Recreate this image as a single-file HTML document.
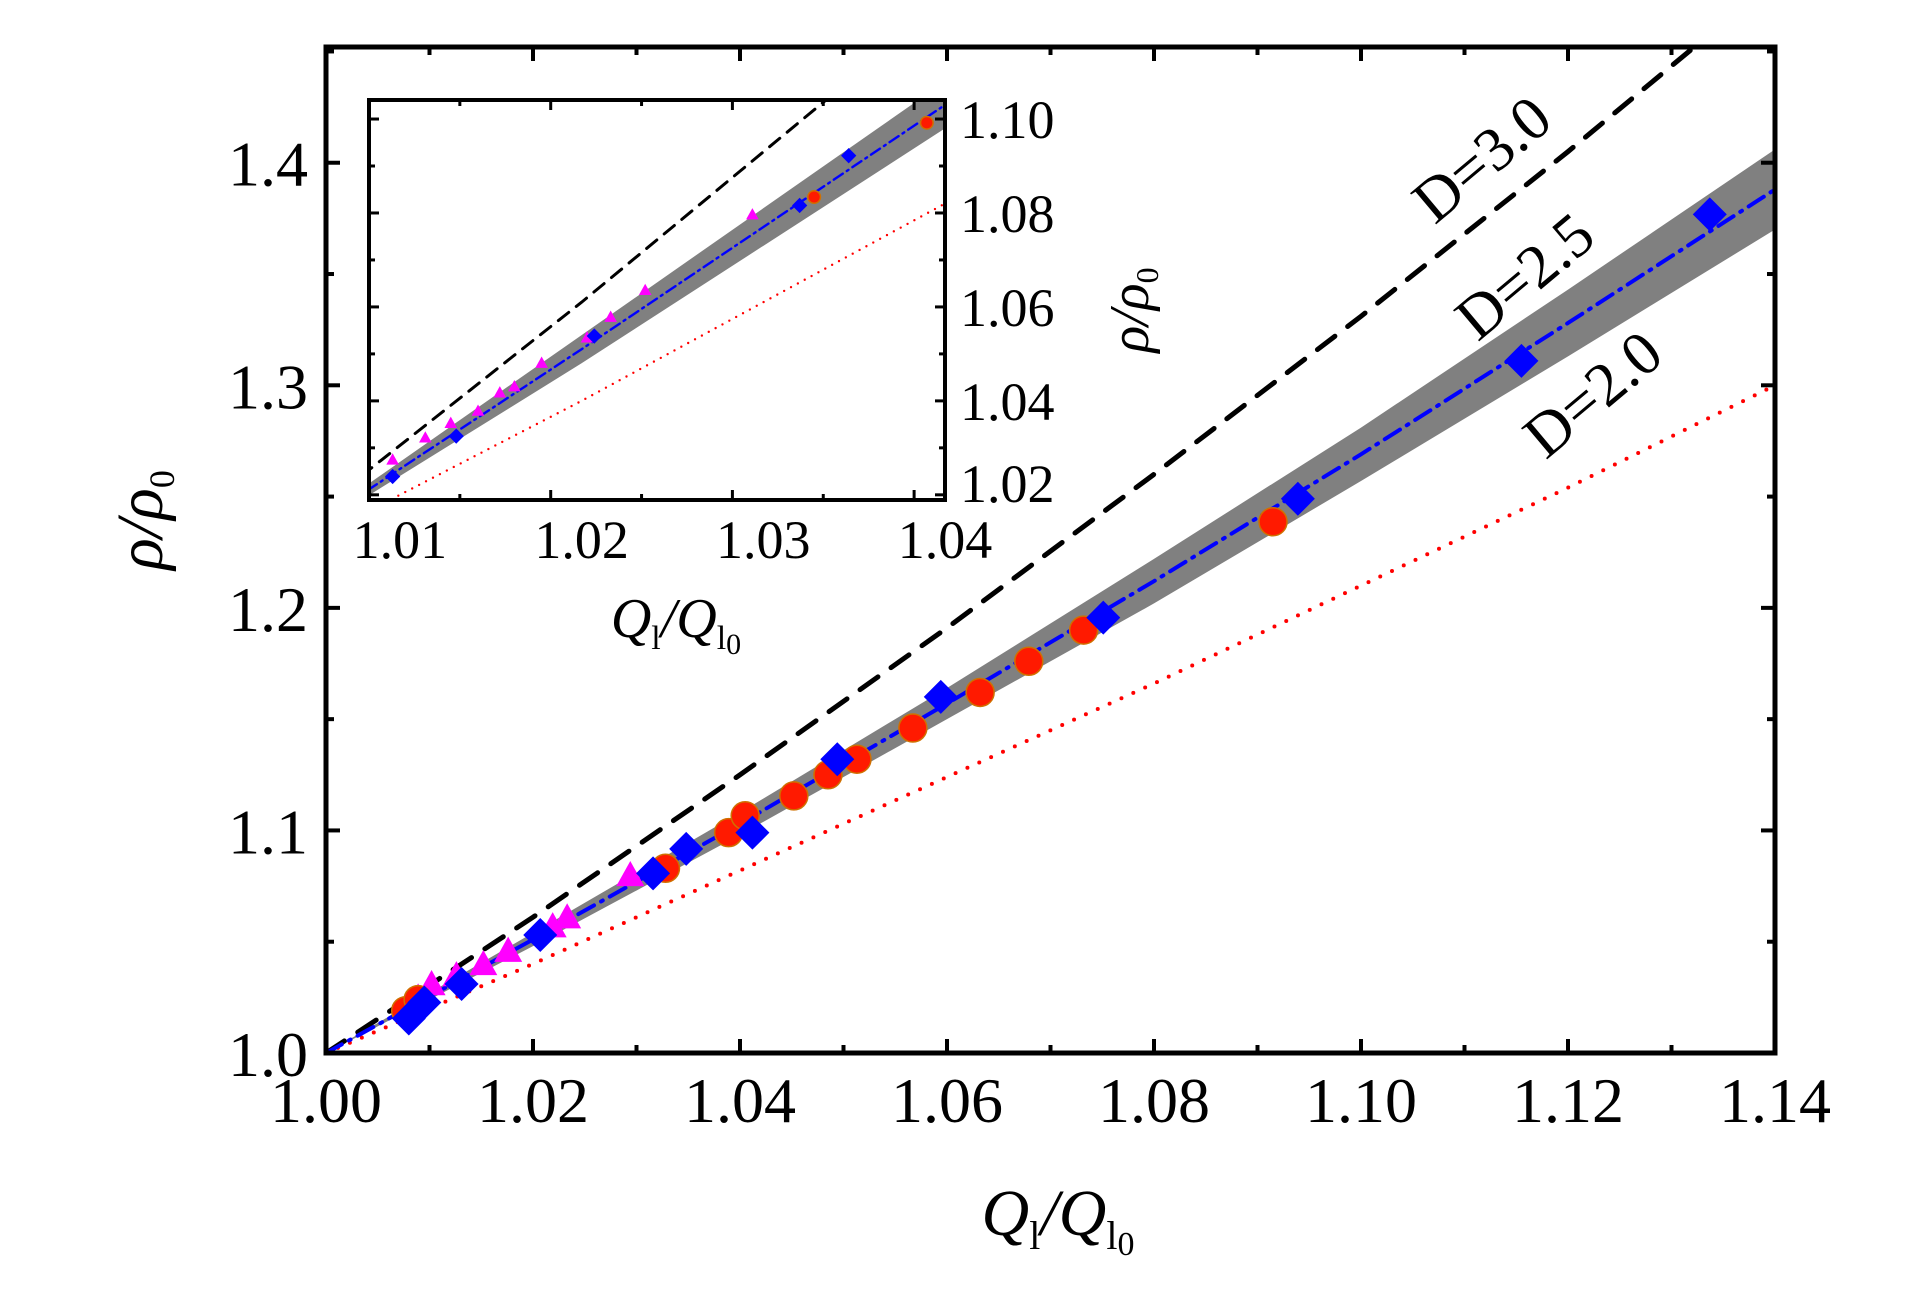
<!DOCTYPE html>
<html><head><meta charset="utf-8"><style>
html,body{margin:0;padding:0;background:#fff;}
svg{display:block;}
svg text{font-family:"Liberation Serif","DejaVu Serif",serif;fill:#000;}
</style></head><body>
<svg id="chart" width="1923" height="1299" viewBox="0 0 1923 1299" xmlns="http://www.w3.org/2000/svg" font-family="Liberation Serif, DejaVu Serif, serif">
<g id="main"></g>
<g id="inset"></g>
</svg>
<script>
// Theory curves
const curveX = [1.00,1.02,1.04,1.06,1.08,1.10,1.12,1.14];
const d30Y = [1.000,1.061,1.125,1.191,1.260,1.331,1.405,1.482];
const d25Y = [1.000,1.051,1.103,1.157,1.212,1.269,1.328,1.388];
const d20Y = [1.000,1.040,1.082,1.124,1.166,1.210,1.254,1.300];
const bandHalf = [0.000,0.003,0.005,0.007,0.010,0.012,0.015,0.018];
// Main data
const redX = [1.0077,1.0089,1.0328,1.0389,1.0405,1.0452,1.0485,1.0513,1.0567,1.0632,1.0679,1.0732,1.0915];
const redY = [1.019,1.024,1.083,1.099,1.1066,1.1155,1.125,1.132,1.146,1.162,1.176,1.190,1.2387];
const blueX = [1.008,1.0095,1.0131,1.0207,1.0316,1.0348,1.0412,1.0494,1.0594,1.0751,1.0939,1.1155,1.1337];
const blueY = [1.0155,1.0227,1.031,1.053,1.0807,1.0917,1.099,1.132,1.160,1.1956,1.249,1.311,1.3768];
const magX = [1.0089,1.0102,1.0126,1.0152,1.0176,1.0219,1.0233,1.0294];
const magY = [1.025,1.031,1.035,1.040,1.046,1.057,1.061,1.080];
// Inset data
const inBlueX = [1.0096,1.0131,1.0207,1.032,1.0347];
const inBlueY = [1.0239,1.0325,1.0538,1.0816,1.0922];
const inRedX = [1.0328,1.039];
const inRedY = [1.0834,1.0992];
const inMagX = [1.0096,1.0114,1.0128,1.0143,1.0155,1.0163,1.0178,1.0203,1.0216,1.0235,1.0294];
const inMagY = [1.0275,1.0322,1.0353,1.0379,1.0418,1.0431,1.0481,1.0535,1.0579,1.0636,1.0797];
const mainXTicks = ["1.00","1.02","1.04","1.06","1.08","1.10","1.12","1.14"];
const mainYTicks = ["1.0","1.1","1.2","1.3","1.4"];
const inXTicks = ["1.01","1.02","1.03","1.04"];
const inYTicks = ["1.02","1.04","1.06","1.08","1.10"];

const NS="http://www.w3.org/2000/svg";
function mk(parent,tag,attrs){const e=document.createElementNS(NS,tag);for(const k in attrs)e.setAttribute(k,attrs[k]);parent.appendChild(e);return e;}

function drawPlot(g,cfg,isInset){
  const L=cfg.L,R=cfg.R,T=cfg.T,B=cfg.B;
  const sx=v=>L+(v-cfg.x0)/(cfg.x1-cfg.x0)*(R-L);
  const sy=v=>B-(v-cfg.y0)/(cfg.y1-cfg.y0)*(B-T);
  const defs=mk(g,'defs',{});
  const cp=mk(defs,'clipPath',{id:cfg.id+'clip'});
  mk(cp,'rect',{x:L,y:T,width:R-L,height:B-T});
  const pg=mk(g,'g',{'clip-path':'url(#'+cfg.id+'clip)'});
  
  
  let up=curveX.map((x,i)=>sx(x)+','+sy(d25Y[i]+bandHalf[i]));
  let dn=curveX.map((x,i)=>sx(x)+','+sy(d25Y[i]-bandHalf[i])).reverse();
  const band=mk(pg,'polygon',{points:up.concat(dn).join(' '),fill:'#808080'});
  
  
  const sw=isInset?0.6:1;
  const line=(ys,st,name)=>{const p=mk(pg,'polyline',Object.assign({points:curveX.map((x,i)=>sx(x)+','+sy(ys[i])).join(' '),fill:'none'},st));
    
    };
  line(d30Y,{stroke:'#000','stroke-width':5*sw,'stroke-dasharray':(22*sw)+' '+(16*sw),'stroke-linecap':'round'},'d3-line');
  line(d20Y,{stroke:'#f00','stroke-width':4*sw,'stroke-dasharray':'0 '+(13*sw),'stroke-linecap':'round'},'d2-line');
  line(d25Y,{stroke:'#0000ff','stroke-width':4*sw,'stroke-dasharray':(18*sw)+' '+(8*sw)+' 2 '+(8*sw),'stroke-linecap':'round'},'d25-line');
  const ms=isInset?0.45:1;
  const rx=isInset?inRedX:redX, ry=isInset?inRedY:redY;
  const bx=isInset?inBlueX:blueX, by=isInset?inBlueY:blueY;
  const mx=isInset?inMagX:magX, my=isInset?inMagY:magY;
  mx.forEach((x,i)=>{const cx=sx(x),cy=sy(my[i]),s=14*ms;
    const t=mk(pg,'polygon',{points:`${cx},${cy-s} ${cx-s},${cy+s*0.8} ${cx+s},${cy+s*0.8}`,fill:'#ff00ff'});
    
    });
  rx.forEach((x,i)=>{const c=mk(pg,'circle',{cx:sx(x),cy:sy(ry[i]),r:14*ms,fill:'#ff1a00',stroke:'#d07000','stroke-width':1.5});
    
    });
  bx.forEach((x,i)=>{const cx=sx(x),cy=sy(by[i]),s=17*ms;
    const d=mk(pg,'polygon',{points:`${cx},${cy-s} ${cx+s},${cy} ${cx},${cy+s} ${cx-s},${cy}`,fill:'#0000ff'});
    
    });
  const fr=mk(g,'rect',{x:L,y:T,width:R-L,height:B-T,fill:'none',stroke:'#000','stroke-width':isInset?4:5});
  
  
  const tg=mk(g,'g',{stroke:'#000','stroke-width':isInset?3:4});
  
  
  const maj=isInset?10:14,mn=isInset?6:8;
  for(let v=cfg.x0;v<=cfg.x1+1e-9;v+=cfg.xm){const k=Math.round((v-cfg.xStart)/cfg.xm);if(v<cfg.xStart-1e-9)continue;
    const len=(k%2===0)?maj:mn;const x=sx(v);
    mk(tg,'line',{x1:x,y1:B,x2:x,y2:B-len});mk(tg,'line',{x1:x,y1:T,x2:x,y2:T+len});}
  for(let v=cfg.yStart;v<=cfg.y1+1e-9;v+=cfg.ym){const k=Math.round((v-cfg.yStart)/cfg.ym);
    const len=(k%2===0)?maj:mn;const y=sy(v);
    mk(tg,'line',{x1:L,y1:y,x2:L+len,y2:y});mk(tg,'line',{x1:R,y1:y,x2:R-len,y2:y});}
  return {sx,sy};
}
const FF='Liberation Serif, DejaVu Serif, serif';
const main=document.getElementById('main');
const mcfg={id:'m',L:326,R:1775,T:47,B:1053,x0:1.0,x1:1.14,y0:1.0,y1:1.452,xm:0.01,ym:0.05,xStart:1.0,yStart:1.0};
const M=drawPlot(main,mcfg,false);
mainXTicks.forEach(t=>{const e=mk(main,'text',{x:M.sx(parseFloat(t)),y:1122,'text-anchor':'middle','font-size':64,'font-family':FF});
  e.textContent=t;
  
  });
mainYTicks.forEach(t=>{const e=mk(main,'text',{x:308,y:M.sy(parseFloat(t))+23,'text-anchor':'end','font-size':64,'font-family':FF});
  e.textContent=t;
  
  });
const inset=document.getElementById('inset');
mk(inset,'rect',{x:369,y:100,width:577,height:400,fill:'#fff'});
const icfg={id:'i',L:369,R:945,T:100,B:500,x0:1.0083,x1:1.0400,y0:1.0189,y1:1.10405,xm:0.005,ym:0.01,xStart:1.01,yStart:1.02};
const I=drawPlot(inset,icfg,true);
inXTicks.forEach(t=>{const e=mk(inset,'text',{x:I.sx(parseFloat(t)),y:558,'text-anchor':'middle','font-size':54,'font-family':FF});
  e.textContent=t;
  
  });
inYTicks.forEach((t,i)=>{const e=mk(inset,'text',{x:960,y:I.sy(parseFloat(t))+19-(i===0?12:0),'text-anchor':'start','font-size':54,'font-family':FF});
  e.textContent=t;
  
  });
</script>
<svg style="position:absolute;left:0;top:0" width="1923" height="1299" font-family="Liberation Serif, DejaVu Serif, serif">
<text x="1058" y="1235" text-anchor="middle" font-size="66" font-style="italic">Q<tspan font-size="40" dy="14" font-style="normal">l</tspan><tspan dy="-14">/Q</tspan><tspan font-size="40" dy="14" font-style="normal">l</tspan><tspan font-size="34" dy="6" font-style="normal">0</tspan></text>
<text transform="translate(162,520) rotate(-90)" text-anchor="middle" font-size="66" font-style="italic">ρ/ρ<tspan font-size="36" dy="12" font-style="normal">0</tspan></text>
<text x="676" y="637" text-anchor="middle" font-size="56" font-style="italic">Q<tspan font-size="34" dy="12" font-style="normal">l</tspan><tspan dy="-12">/Q</tspan><tspan font-size="34" dy="12" font-style="normal">l</tspan><tspan font-size="30" dy="5" font-style="normal">0</tspan></text>
<text transform="translate(1148,310) rotate(-90)" text-anchor="middle" font-size="56" font-style="italic">ρ/ρ<tspan font-size="32" dy="10" font-style="normal">0</tspan></text>
<text transform="translate(1495,175) rotate(-40)" text-anchor="middle" font-size="62">D=3.0</text>
<text transform="translate(1538,292) rotate(-40)" text-anchor="middle" font-size="62">D=2.5</text>
<text transform="translate(1606,410) rotate(-40)" text-anchor="middle" font-size="62">D=2.0</text>
</svg>
</body></html>
